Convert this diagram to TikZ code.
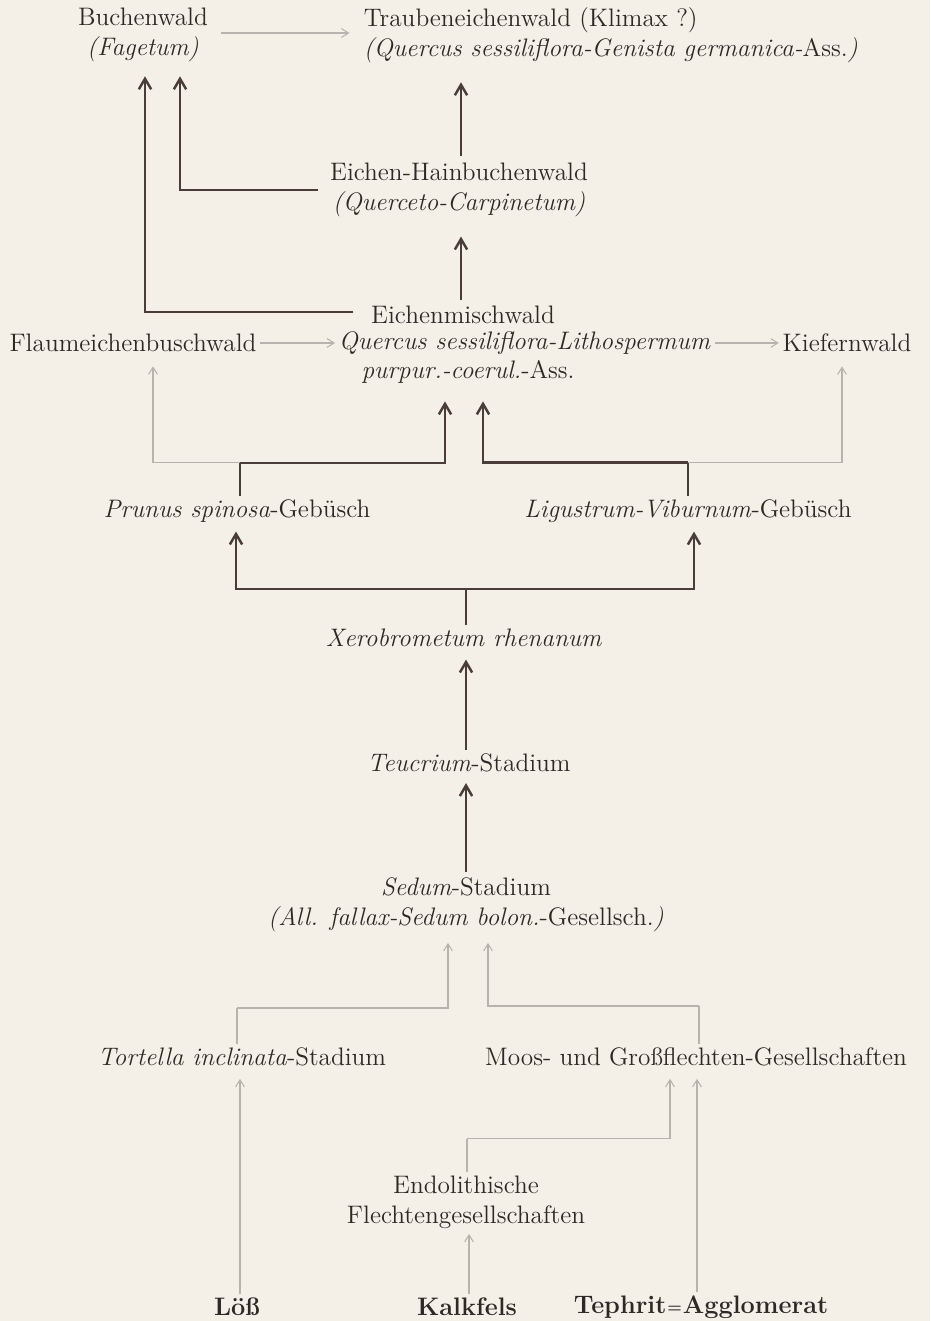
\documentclass[tikz,border=0pt]{standalone}
\usepackage[usenames,dvipsnames]{xcolor}
\usepackage{tikz}
\usetikzlibrary{positioning,arrows.meta,calc}
\definecolor{paper}{HTML}{F4EFE7}
\definecolor{ink}{HTML}{2E2826}
\definecolor{darkline}{HTML}{4A3C39}
\definecolor{paleline}{HTML}{B8B3AE}

\begin{document}
\begin{tikzpicture}[x=0.02cm,y=-0.02cm,
    stage/.style={text=ink,font=\fontsize{14.4}{17}\selectfont,inner sep=2pt,align=center},
    ground/.style={stage,font=\fontsize{14.4}{17}\selectfont\bfseries},
    strong/.style={draw=darkline,line width=1.4pt,-{Straight Barb[length=6pt,width=7pt]}},
    weak/.style={draw=paleline,line width=0.6pt,-{Straight Barb[length=4pt,width=5pt]}},
    strongline/.style={draw=darkline,line width=1.4pt},
    weakline/.style={draw=paleline,line width=0.6pt}]
\fill[paper] (0,0) rectangle (930,1321);
\useasboundingbox (0,0) rectangle (930,1321);

\node[stage] (buchen) at (143,35) {Buchenwald\\\textit{(Fagetum)}};
\node[stage,anchor=west,align=left] (traube) at (360,35) {Traubeneichenwald (Klimax ?)\\\textit{(Quercus sessiliflora-Genista germanica-}Ass.\textit{)}};
\node[stage] (ehb) at (459,190) {Eichen-Hainbuchenwald\\\textit{(Querceto-Carpinetum)}};
\node[stage] (emw) at (463,315) {Eichenmischwald};
\node[stage,anchor=west] (qsl) at (335,343) {\textit{Quercus sessiliflora-Lithospermum}};
\node[stage] (ppa) at (468,372) {\textit{purpur.-coerul.}-Ass.};
\node[stage] (flaum) at (133,343) {Flaumeichenbuschwald};
\node[stage] (kiefer) at (847,343) {Kiefernwald};
\node[stage] (prunus) at (237,511) {\textit{Prunus spinosa}-Gebüsch};
\node[stage] (ligus) at (688,511) {\textit{Ligustrum-Viburnum}-Gebüsch};
\node[stage] (xero) at (464,638) {\textit{Xerobrometum rhenanum}};
\node[stage] (teuc) at (469,763) {\textit{Teucrium}-Stadium};
\node[stage] (sedum) at (466,905) {\textit{Sedum}-Stadium\\\textit{(All. fallax-Sedum bolon.}-Gesellsch.\textit{)}};
\node[stage] (tort) at (242,1057) {\textit{Tortella inclinata}-Stadium};
\node[stage] (moos) at (696,1057) {Moos- und Großflechten-Gesellschaften};
\node[stage] (endo) at (466,1202) {Endolithische\\Flechtengesellschaften};
\node[ground] (loess) at (237,1307) {Löß};
\node[ground] (kalk) at (467,1307) {Kalkfels};
\node[ground] (tephrit) at (701,1307) {Tephrit\kern0.5pt\raisebox{0.5pt}{\fontsize{9}{9}\selectfont=}\kern0.5pt Agglomerat};

% top row
\draw[weak,shorten <=5pt,shorten >=6pt] ($(buchen.east)+(0,-2)$) -- ($(traube.west)+(0,-2)$);
\draw[strong,shorten <=8pt,shorten >=6pt] ($(emw.west)+(0,-3)$) -| ($(buchen.south)+(2,0)$);
\draw[strong,shorten <=5pt,shorten >=6pt] (ehb.west) -| ($(buchen.south)+(37,0)$);
\draw[strong,shorten <=2pt,shorten >=9pt] ($(ehb.north)+(2,0)$) -- ($(traube.south -| ehb)+(2,0)$);
\draw[strong,shorten <=1pt,shorten >=9pt] ($(emw.north)+(-2,0)$) -- ($(ehb.south)+(2,0)$);

% Eichenmischwald row
\draw[weak] (flaum) -- (qsl);
\draw[weak] (qsl) -- (kiefer);

% shrubs
\coordinate (pj) at ($(prunus.north)+(3,-33)$);
\coordinate (lj) at ($(ligus.north)+(0,-33)$);
\draw[strongline] ($(prunus.north)+(3,0)$) -- (pj);
\draw[strong,shorten >=8pt] (pj) -| ($(ppa.south)+(-23,0)$);
\draw[weak,shorten >=6pt] (pj) -| ($(flaum.south)+(20,0)$);
\draw[strongline] (ligus.north) -- (lj);
\draw[strong,shorten >=8pt] (lj) -| ($(ppa.south)+(15,0)$);
\draw[weak,shorten >=6pt] (lj) -| ($(kiefer.south)+(-5,0)$);

% grassland
\coordinate (xj) at ($(xero.north)+(2,-36)$);
\draw[strongline] ($(xero.north)+(2,0)$) -- (xj);
\draw[strong,shorten >=3pt] (xj) -| ($(prunus.south)+(-1,0)$);
\draw[strong,shorten >=3pt] (xj) -| ($(ligus.south)+(6,0)$);
\draw[strong,shorten >=5pt] ($(teuc.north)+(-3,0)$) -- ($(xero.south)+(2,0)$);
\draw[strong,shorten <=1pt,shorten >=4pt] (sedum.north) -- ($(teuc.south)+(-3,0)$);

% pioneers
\coordinate (tj) at ($(tort.north)+(-5,-36)$);
\coordinate (mj) at ($(moos.north)+(3,-38)$);
\draw[weakline] ($(tort.north)+(-5,0)$) -- (tj);
\draw[weak,shorten >=4pt] (tj) -| ($(sedum.south)+(-18,0)$);
\draw[weakline] ($(moos.north)+(3,0)$) -- (mj);
\draw[weak,shorten >=4pt] (mj) -| ($(sedum.south)+(22,0)$);

% substrates
\coordinate (ej) at ($(endo.north)+(1,-33)$);
\draw[weakline] ($(endo.north)+(1,0)$) -- (ej);
\draw[weak,shorten >=5pt] (ej) -| ($(moos.south)+(-26,0)$);
\draw[weak,shorten >=5pt] ($(loess.north)+(3,0)$) -- ($(tort.south)+(-2,0)$);
\draw[weak,shorten >=1pt] ($(kalk.north)+(2,0)$) -- ($(endo.south)+(3,0)$);
\draw[weak,shorten >=5pt] ($(tephrit.north)+(-4,0)$) -- ($(moos.south)+(1,0)$);
\end{tikzpicture}
\end{document}
